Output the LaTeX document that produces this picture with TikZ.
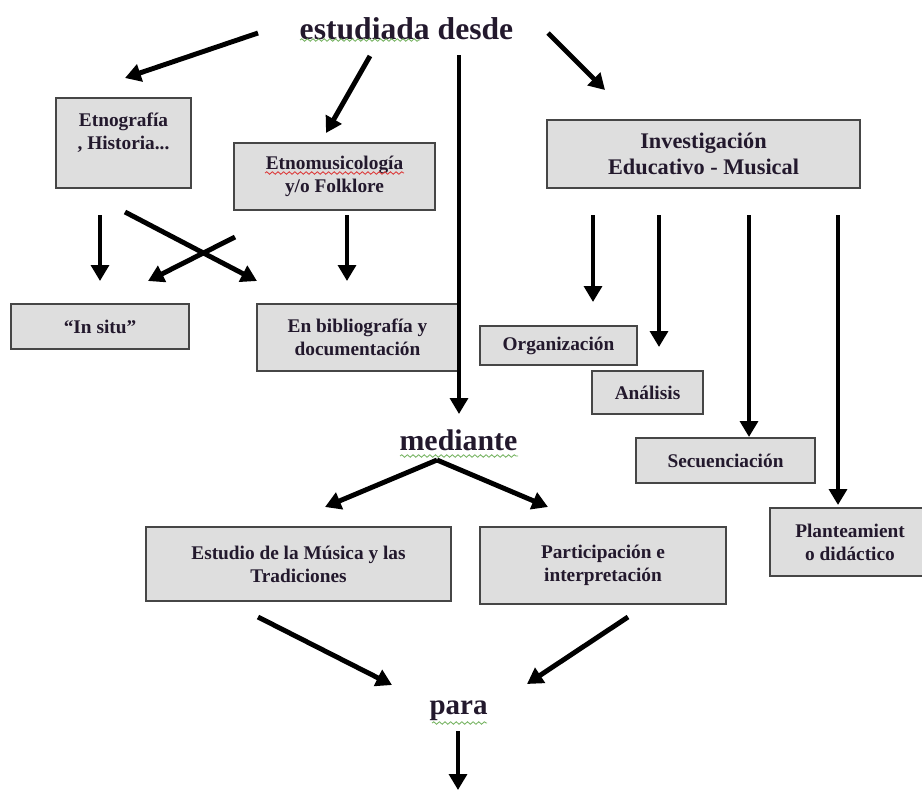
\documentclass[tikz,border=0pt]{standalone}
\usepackage{fontspec}
\setmainfont{Liberation Serif}
\usetikzlibrary{arrows.meta,decorations.pathmorphing}
\definecolor{txt}{RGB}{35,25,45}
\definecolor{boxfill}{RGB}{222,222,222}
\definecolor{boxline}{RGB}{70,70,70}
\definecolor{wavegreen}{RGB}{120,180,100}
\definecolor{wavered}{RGB}{220,60,60}
\tikzset{
  box/.style={draw=boxline, line width=0.9pt, fill=boxfill, rectangle, inner sep=1pt,
    align=center, text=txt, font=\fontsize{11}{13}\selectfont\bfseries},
  bigbox/.style={box, font=\fontsize{12.7}{15}\selectfont\bfseries},
  word/.style={inner sep=0pt, text=txt},
  arr/.style={line width=2.8pt, -{Triangle[length=9pt,width=10pt]}},
  wave/.style={decorate, decoration={snake, segment length=3.2pt, amplitude=0.7pt}, line width=0.5pt}
}
\begin{document}
\begin{tikzpicture}[x=0.02cm,y=-0.02cm]
\useasboundingbox (0,0) rectangle (922,791);

% words
\node[word, font=\fontsize{18}{20}\selectfont\bfseries] (estudiada) at (406.5,29) {estudiada desde};
\node[word, font=\fontsize{17}{19}\selectfont\bfseries] (mediante) at (458.5,440) {mediante};
\node[word, font=\fontsize{16.5}{19}\selectfont\bfseries] (para) at (458.5,711) {para};

% boxes
\node[box, minimum width=2.70cm, minimum height=1.80cm] (etno) at (123.5,143) {Etnografía\\, Historia...\\\phantom{X}};
\node[box, minimum width=4.02cm, minimum height=1.34cm] (etnomus) at (334.5,176.5) {Etnomusicología\\y/o Folklore};
\node[bigbox, minimum width=6.26cm, minimum height=1.36cm] (inv) at (703.5,154) {Investigación\\Educativo - Musical};
\node[box, minimum width=3.56cm, minimum height=0.90cm] (insitu) at (100,326.5) {“In situ”};
\node[box, minimum width=4.02cm, minimum height=1.34cm] (biblio) at (357.5,337.5) {En bibliografía y\\documentación};
\node[box, minimum width=3.14cm, minimum height=0.78cm] (org) at (558.5,345.5) {Organización};
\node[box, minimum width=2.22cm, minimum height=0.86cm] (anal) at (647.5,392.5) {Análisis};
\node[box, minimum width=3.58cm, minimum height=0.90cm] (secu) at (725.5,460.5) {Secuenciación};
\node[box, minimum width=3.20cm, minimum height=1.36cm] (plan) at (850,542) {Planteamient\\o didáctico};
\node[box, minimum width=6.10cm, minimum height=1.48cm] (estudio) at (298.5,564) {Estudio de la Música y las\\Tradiciones};
\node[box, minimum width=4.92cm, minimum height=1.54cm] (part) at (603,565.5) {Participación e\\interpretación};

% spell-check underlines
\draw[wave, wavegreen] (300,40) -- (420,40);
\draw[wave, wavegreen] (400,456) -- (518,456);
\draw[wave, wavegreen] (432,723) -- (487,723);
\draw[wave, wavered] (265,173) -- (404,173);

% connector end points
\coordinate (e1) at (258,33);  \coordinate (etnoIn) at (125,78);
\coordinate (e2) at (370,56);  \coordinate (musIn) at (326,133);
\coordinate (e3) at (459,55);  \coordinate (medIn) at (459,414);
\coordinate (e4) at (548,33);  \coordinate (invIn) at (605,90);
\coordinate (etnoA) at (100,215); \coordinate (situA) at (100,281);
\coordinate (etnoB) at (125,212); \coordinate (bibA) at (257,281);
\coordinate (musA) at (235,237);  \coordinate (situB) at (148,281);
\coordinate (musB) at (347,215);  \coordinate (bibB) at (347,281);
\coordinate (invA) at (593,215);  \coordinate (orgIn) at (593,302);
\coordinate (invB) at (659,215);  \coordinate (analIn) at (659,347);
\coordinate (invC) at (749,215);  \coordinate (secuIn) at (749,437);
\coordinate (invD) at (838,215);  \coordinate (planIn) at (838,505);
\coordinate (fork) at (437,460);
\coordinate (estIn) at (325,507); \coordinate (partIn) at (548,507);
\coordinate (estOut) at (258,617); \coordinate (paraA) at (392,685);
\coordinate (partOut) at (628,617); \coordinate (paraB) at (527,684);
\coordinate (paraOut) at (458,731); \coordinate (endP) at (458,790);

% connectors
\draw[arr] (e1) -- (etnoIn);
\draw[arr] (e2) -- (musIn);
\draw[arr] (e3) -- (medIn);
\draw[arr] (e4) -- (invIn);
\draw[arr] (etnoA) -- (situA);
\draw[arr] (etnoB) -- (bibA);
\draw[arr] (musA) -- (situB);
\draw[arr] (musB) -- (bibB);
\draw[arr] (invA) -- (orgIn);
\draw[arr] (invB) -- (analIn);
\draw[arr] (invC) -- (secuIn);
\draw[arr] (invD) -- (planIn);
\draw[arr] (fork) -- (estIn);
\draw[arr] (fork) -- (partIn);
\draw[arr] (estOut) -- (paraA);
\draw[arr] (partOut) -- (paraB);
\draw[arr] (paraOut) -- (endP);
\end{tikzpicture}
\end{document}
